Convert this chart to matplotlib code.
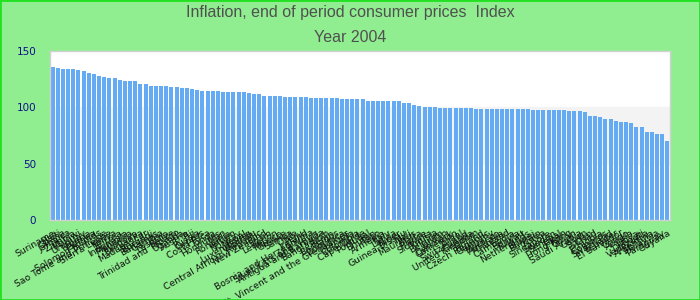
import numpy as np
import matplotlib
matplotlib.use("Agg")
import matplotlib.pyplot as plt
from matplotlib.patches import Rectangle

# data (index, end of period CPI, 2004)
countries = [
    "Suriname", "Haiti", "Ghana", "Jamaica", "Zambia", "Malawi", "Uruguay", "Nigeria",
    "Guinea", "Solomon Islands", "Sao Tome and Principe", "Sierra Leone", "Kenya", "Eritrea",
    "Indonesia", "Mongolia", "Moldova", "Sri Lanka", "Madagascar", "Burundi", "Bahamas", "Gambia",
    "Lesotho", "Belize", "Trinidad and Tobago", "Uganda", "Austria", "Fiji", "Russia", "Cyprus",
    "Costa Rica", "Tonga", "Honduras", "Iran", "Romania", "Yemen", "Norway", "Nepal", "Luxembourg",
    "Vanuatu", "Central African Republic", "New Zealand", "Spain", "Lebanon", "Mexico", "Greece",
    "Samoa", "Chile", "Peru", "Ireland", "Bosnia and Herzegovina", "Saint Kitts and Nevis",
    "Antigua and Barbuda", "Bangladesh", "Benin", "Barbados", "Dominica",
    "St. Vincent and the Grenadines", "Grenada", "Colombia", "Cape Verde", "Portugal", "Bhutan",
    "Togo", "Armenia", "Italy", "Latvia", "Niger", "Guinea-Bissau", "Mali", "Mauritius", "Malta",
    "France", "Slovenia", "Tunisia", "Belgium", "Jordan", "Denmark", "Cameroon", "Israel",
    "Switzerland", "Canada", "United Kingdom", "Finland", "Czech Republic", "Germany", "Morocco",
    "Australia", "Thailand", "Cambodia", "Bolivia", "Kuwait", "Netherlands", "Brunei", "Bahrain",
    "Korea", "Singapore", "Sweden", "Senegal", "Japan", "Hong Kong", "Oman", "Saudi Arabia",
    "Gabon", "Sudan", "Chad", "Ethiopia", "Comoros", "Swaziland", "Ecuador", "El Salvador",
    "Congo", "Angola", "Libya", "Djibouti", "Venezuela", "Argentina", "Malaysia", "Paraguay",
    "Guyana",
]

values = [
    135.8, 134.9, 134.0, 134.0, 134.0, 133.1, 132.2, 130.5, 129.6, 127.8,
    126.9, 126.0, 126.0, 124.3, 123.4, 123.4, 123.4, 120.7, 120.7, 118.9,
    118.9, 118.9, 118.9, 118.0, 118.0, 117.2, 117.2, 116.3, 115.4, 114.5,
    114.5, 114.5, 114.5, 113.6, 113.6, 113.6, 113.6, 113.6, 112.7, 111.8,
    111.8, 110.1, 110.1, 110.1, 110.1, 109.2, 109.2, 109.2, 109.2, 109.2,
    108.3, 108.3, 108.3, 108.3, 108.3, 108.3, 107.4, 107.4, 107.4, 107.4,
    107.4, 105.6, 105.6, 105.6, 105.6, 105.6, 105.6, 105.6, 103.8, 103.8,
    102.1, 101.2, 100.3, 100.3, 100.3, 99.4, 99.4, 99.4, 99.4, 99.4,
    99.4, 99.4, 98.5, 98.5, 98.5, 98.5, 98.5, 98.5, 98.5, 98.5,
    98.5, 98.5, 98.5, 97.6, 97.6, 97.6, 97.6, 97.6, 97.6, 97.6,
    96.7, 96.7, 96.7, 95.9, 92.3, 92.3, 91.4, 89.6, 89.6, 87.9,
    87.0, 87.0, 86.1, 82.5, 82.5, 78.1, 78.1, 76.3, 76.3, 70.1,
]

yticks = [0, 50, 100, 150]

title1 = "Inflation, end of period consumer prices  Index"
title2 = "Year 2004"

bg = "#90ee90"
bar_color = "#65abf3"

fig = plt.figure(figsize=(7, 3), dpi=100, facecolor=bg)
ax = fig.add_axes([50 / 700, 80 / 300, 620 / 700, 169 / 300])
ax.set_facecolor("white")

x = np.arange(len(values))
ax.axhspan(50, 100, color="#f3f3f3", zorder=0)
ax.bar(x, values, width=0.8, color=bar_color, zorder=2)

ax.set_xlim(-0.5, len(values) - 0.5)
ax.set_ylim(0, 150)
ax.set_yticks(yticks)
ax.set_yticklabels([str(v) for v in yticks], color="#10108a", fontsize=7.5,
                   family="DejaVu Sans")
ax.set_xticks(x)
ax.set_xticklabels(countries, rotation=30, ha="right", rotation_mode="anchor",
                   fontsize=6.7, color="#111111", family="DejaVu Sans")
ax.tick_params(axis="y", length=0, pad=10)
ax.tick_params(axis="x", length=0, pad=6)

for s in ax.spines.values():
    s.set_color("#d0d0d0")
    s.set_linewidth(1)

tfont = ["Liberation Sans Narrow", "Liberation Sans", "DejaVu Sans"]
fig.text(0.5, 1 - 13 / 300, title1, ha="center", va="center", fontsize=11.5,
         color="#505050", family=tfont)
fig.text(0.5, 1 - 37 / 300, title2, ha="center", va="center", fontsize=11.5,
         color="#505050", family=tfont)

# green frame round the picture
fig.patches.append(Rectangle((0, 0), 1, 1, transform=fig.transFigure, fill=False,
                             edgecolor="#22e022", linewidth=2))

fig.savefig("out.png", dpi=100, facecolor=bg)
